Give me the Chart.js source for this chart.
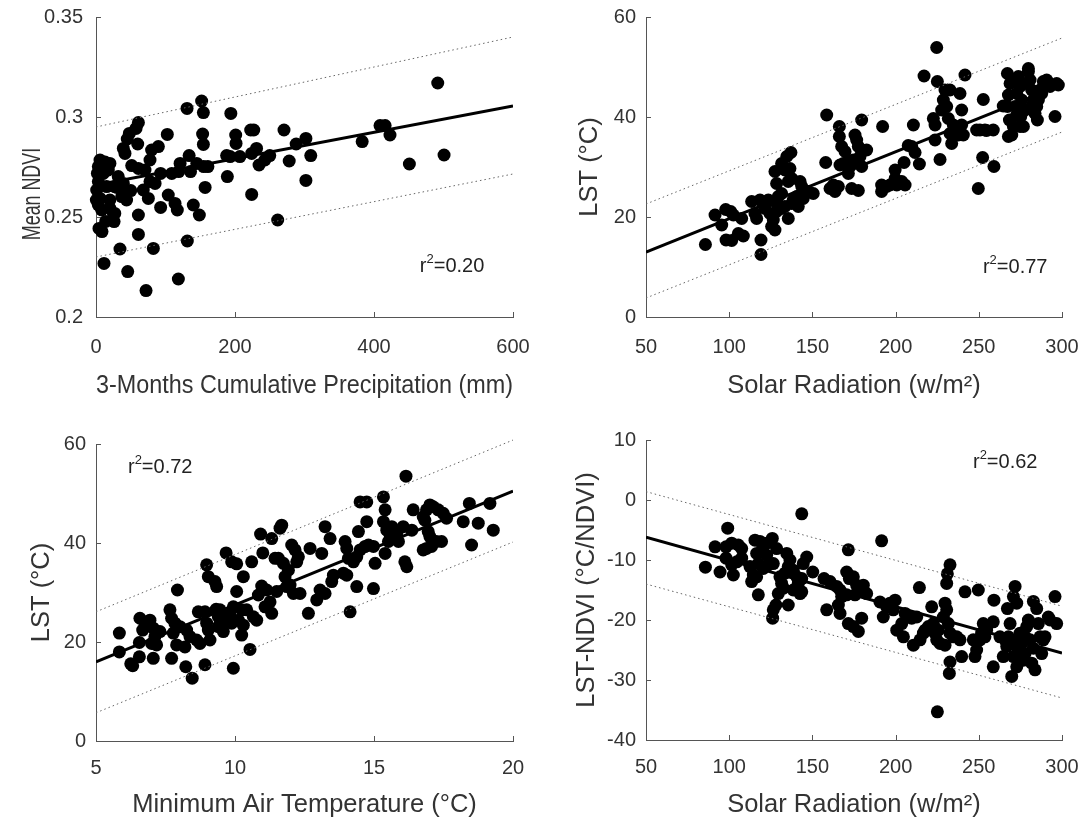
<!DOCTYPE html>
<html>
<head>
<meta charset="utf-8">
<title>NDVI / LST scatter panels</title>
<script src="https://cdn.jsdelivr.net/npm/chart.js@4/dist/chart.umd.min.js"></script>
<style>
  html, body { margin: 0; padding: 0; background: #fff; }
  #wrap { position: relative; width: 1091px; height: 821px; }
  .panel { position: absolute; }
</style>
</head>
<body>
<div id="wrap">
  <div class="panel" style="left:0;top:0;width:545px;height:410px"><canvas id="c1"></canvas></div>
  <div class="panel" style="left:545px;top:0;width:546px;height:410px"><canvas id="c2"></canvas></div>
  <div class="panel" style="left:0;top:410px;width:545px;height:411px"><canvas id="c3"></canvas></div>
  <div class="panel" style="left:545px;top:410px;width:546px;height:411px"><canvas id="c4"></canvas></div>
</div>
<script>
// ---- data ----

// panel a: 3-month precipitation (mm) vs mean NDVI
const precipNdvi = [
  [491.7,0.317],[500.8,0.281],[450.9,0.2765],[408.7,0.2957],[416,0.2957],[423,0.291],[383,0.2877],
  [309,0.2807],[302,0.2893],[288,0.2865],[278,0.278],[270.5,0.2935],[302,0.2683],[261.4,0.2485],
  [250,0.2807],[243,0.2785],[234.6,0.276],[227,0.2935],[222.6,0.2935],[231,0.2843],[224,0.2818],
  [224,0.2613],[201,0.291],[201.5,0.2868],[194,0.3018],[188,0.2807],[193,0.2802],[207,0.2802],
  [189,0.2702],[152,0.308],[131,0.3043],[154.5,0.3022],[153.4,0.2915],[154.5,0.2863],[134,0.2807],
  [145,0.2768],[157,0.2648],[161,0.2752],[155,0.2752],[136,0.2727],[121,0.2768],[119,0.2727],
  [109,0.2718],[102.6,0.2913],[93,0.2718],[140,0.256],[148.7,0.251],[104,0.261],[113.7,0.2568],
  [117,0.2535],[93,0.2548],[131.4,0.238],[118.5,0.219],[82.5,0.2343],[72,0.2132],[45.6,0.2227],
  [34.5,0.234],[11.5,0.2268],[61,0.2413],[61,0.251],[8.6,0.2427],[4.3,0.2443],[26,0.2477],
  [25,0.2518],[61,0.2972],[48,0.2918],[45,0.289],[57.6,0.2943],[60,0.2865],[39.3,0.2843],
  [41.7,0.2818],[89.7,0.2852],[80,0.2835],[77.7,0.2785],[51.4,0.2757],[61,0.2743],[70.5,0.2735],
  [77.7,0.2677],[68,0.2635],[75.3,0.2593],[39.3,0.2668],[41.7,0.2627],[37,0.2602],[44,0.2585],
  [20,0.2768],[17.7,0.2735],[10.5,0.2718],[5.8,0.2785],[3.4,0.2752],[2,0.2718],[3.4,0.2677],
  [1,0.2635],[5.8,0.2593],[3.4,0.256],[8.2,0.2535],[20,0.2543],[27,0.2518],[15.4,0.2652],
  [27,0.2652],[32,0.2702],[20,0.2585],[13,0.2775],[0.5,0.2585],[14,0.2478],[30,0.2648],
  [50,0.2632],[85,0.2668]
];
const fitX1 = [0, 600];
const fitY1 = [0.266, 0.3055];
const upperY1 = [0.295, 0.340];
const lowerY1 = [0.230, 0.2715];
const xTicks1 = [0, 200, 400, 600];
const yTicks1 = [0.2, 0.25, 0.3, 0.35];

// panel b: solar radiation vs LST
const solarLst = [
  [85.7,14.5],[91.5,20.4],[95.5,18.4],[97.9,21.5],[100.9,21.1],[102.5,20.4],[98.1,15.4],[101.5,15.3],
  [107.5,19.7],[108.5,16.2],[105.5,16.7],[119.1,15.4],[119.1,12.5],
  [113.5,23.1],[115.5,20.7],[116.5,19.7],[118.5,23.4],[120.5,22.7],[121.5,21.7],[123.5,23.4],
  [124.5,20.7],[126.5,19.4],[127.5,17.4],[125.5,18.1],[128.5,22.7],[128.5,26.7],[127.5,29.1],
  [129.5,24.1],[131.5,24.7],[131.5,30.7],[133.5,29.4],[135.5,27.1],[137.1,32.9],[134.6,32.1],
  [136.5,29.7],[137.6,27.7],[135.5,19.7],[138.5,23.4],[140.6,24.1],[141.5,22.1],[142.6,27.1],
  [143.6,26.1],[144.5,23.7],[145.6,24.7],[147.5,25.1],[150.5,24.7],[137.6,22.7],[133.5,22.1],
  [131.5,21.7],[128.5,21.1],
  [158,30.9],[158.6,40.4],[160.6,25.7],[163.6,25.1],[165.6,26.1],[162.6,26.4],[166.2,38.1],[166.2,36.1],
  [167.6,34.1],[169.6,33.1],[166.6,30.4],[168.6,30.7],[171.6,31.1],[172.6,30.1],[171.6,28.7],
  [174.6,31.4],[175.6,36.4],[176.6,35.4],[177.6,34.1],[178.6,32.1],[179.6,30.1],[182.6,33.4],
  [179.6,39.4],[173.6,25.7],[177.6,25.3],
  [192.2,38.1],[191.6,26.4],[191.6,25.1],[194.6,26.1],[196.6,26.4],[199.7,29.4],[200.7,26.4],
  [203.7,27.1],[205.7,26.4],[199.7,27.7],[205.1,30.9],[207.6,34.3],[209.7,34.1],[210.7,38.4],
  [211.7,32.9],[214.3,30.6],[217.1,48.2],[224.7,53.9],[225.1,47.1],
  [222.7,39.7],[223.7,38.4],[223.7,35.4],[226.7,31.5],[227.7,41.4],[228.7,43.4],[229.7,45.4],
  [230.7,42.1],[231.7,39.7],[232.7,45.4],[232.7,36.7],[233.7,34.7],[234.7,38.4],[235.7,36.7],
  [237.7,36.4],[238.7,44.7],[239.7,41.4],[239.7,38.4],[240.7,36.4],[241.7,48.4],
  [248.7,37.4],[249.7,25.7],[250.7,37.4],[252.3,31.9],[253.7,37.4],[252.7,43.5],[254.7,37.3],
  [258.7,37.4],[259.1,30.1],[264.7,42.2],
  [267.2,48.7],[268.8,46.7],[270.8,47.1],[267.8,44.4],[267.2,42.1],[268.4,39.4],[267.8,36.1],
  [269.8,36.4],[270.8,38.1],[271.8,42.1],[272.8,44.7],[273.8,48.1],[274.8,46.1],[275.8,43.4],
  [275.2,40.1],[276.8,38.1],[277.8,41.4],[279.8,49.7],[279.8,49.1],[280.8,47.4],[281.8,45.4],
  [282.8,43.4],[281.8,42.1],[283.8,40.7],[285.2,39.4],[285.8,43.4],[286.8,45.4],[288.8,47.1],
  [290.8,46.7],[292.8,46.1],[295.8,40.1],[296.8,46.7],[297.8,46.4],[278.8,46.7],[272.8,40.4],
  [274.8,38.1],[284.8,42.1],[287.8,44.7],[290.8,47.4]
];
const fitX2 = [50, 300];
const fitY2 = [13.0, 46.4];
const upperY2 = [22.6, 55.8];
const lowerY2 = [3.8, 37.0];
const xTicks2 = [50, 100, 150, 200, 250, 300];
const yTicks2 = [0, 20, 40, 60];

// panel c: minimum air temperature vs LST
const tminLst = [
  [5.84,21.8],[5.84,18.0],[6.25,15.6],[6.32,15.2],[6.56,17.0],[6.56,19.9],[6.58,24.8],[6.94,24.4],
  [6.68,22.4],[6.76,23.8],[7.06,22.8],[7.12,21.1],[7.0,19.7],[7.3,22.1],[7.18,19.4],[7.06,16.7],
  [7.66,26.5],[7.72,24.8],[7.84,23.8],[7.93,30.5],[7.78,21.8],[7.9,19.4],[7.72,16.7],[8.2,19.0],
  [8.26,22.4],[8.23,15.0],[8.46,12.7],
  [8.02,23.1],[8.38,21.1],[8.62,20.4],[8.74,19.7],[8.68,26.1],[8.92,26.1],[8.98,23.8],[9.04,22.4],
  [9.1,20.4],[8.92,15.4],
  [8.98,35.6],[9.04,33.2],[9.28,32.2],[9.34,31.2],[9.32,26.6],[9.4,25.1],[9.4,23.1],[9.46,26.5],
  [9.52,24.4],[9.58,22.1],[9.58,23.8],
  [9.68,38.0],[9.88,36.2],[10.06,35.8],[10.3,33.2],[10.06,30.2],[9.94,27.1],[9.82,25.5],[9.88,23.8],
  [10.12,24.4],[10.24,26.5],[10.3,23.4],[10.24,21.4],[9.94,14.7],[10.54,18.5],[10.42,26.5],
  [10.6,36.2],[10.66,25.1],[10.78,24.4],
  [10.92,41.8],[11.0,38.0],[11.32,40.9],[10.96,31.3],[10.84,29.5],[11.14,30.5],[11.08,27.1],
  [11.26,28.1],[11.32,25.8],[11.5,30.2],[11.44,36.9],[11.68,43.6],[11.62,43.0],[11.56,36.9],
  [11.74,35.9],[11.92,34.5],[11.8,33.2],[11.86,31.2],[11.98,31.5],[12.1,29.8],[12.04,39.6],
  [12.16,38.6],[12.28,37.2],[12.22,36.2],[12.34,29.8],[12.64,25.8],[12.7,38.9],[12.94,28.5],
  [13.12,37.9],[13.24,43.3],[13.06,30.5],[13.24,29.8],
  [13.42,40.9],[13.54,33.5],[13.48,32.2],[13.96,40.3],[14.02,38.9],[14.08,36.9],[14.26,36.2],
  [14.02,33.5],[13.9,33.9],[14.14,26.1],[14.38,31.2],[14.38,37.2],[14.5,38.6],[14.44,42.3],
  [14.5,48.3],[14.74,48.3],[14.74,44.3],[14.68,39.3],[14.8,39.6],[14.98,39.3],[15.04,35.9],
  [14.98,30.8],[15.34,49.3],[15.4,46.7],[15.34,44.3],[15.46,42.6],[15.4,37.9],[15.52,40.3],
  [15.64,43.3],[15.58,41.6],[15.82,42.0],[15.88,40.3],[16.05,43.3],[16.11,36.2],[16.18,35.2],
  [16.15,53.5],[16.41,46.7],[16.36,42.6],
  [16.77,45.3],[16.83,44.6],[16.89,46.7],[17.01,47.7],[17.13,47.3],[17.31,46.7],[17.49,46.0],
  [17.61,45.0],[16.95,42.3],[17.01,41.3],[16.77,38.6],[16.89,38.9],[17.07,39.3],[17.25,40.3],
  [17.43,40.3],[18.21,44.3],[18.43,48.0],[18.51,39.6],[18.75,44.0],[19.17,48.0],[19.29,42.6]
];
const fitX3 = [5, 20];
const fitY3 = [16.0, 50.5];
const upperY3 = [26.1, 60.8];
const lowerY3 = [5.7, 40.2];
const xTicks3 = [5, 10, 15, 20];
const yTicks3 = [0, 20, 40, 60];

// panel d: solar radiation vs LST-NDVI slope
const solarLstNdvi = [
  [85.7,-11.2],[91.5,-7.8],[94.5,-12.0],[99.1,-4.7],[98.1,-7.8],[101.5,-7.2],[105.5,-7.5],[107.5,-8.1],
  [98.1,-9.7],[101.5,-10.8],[102.5,-12.5],[104.6,-10.3],[107.5,-9.7],
  [113.5,-13.6],[117.5,-15.8],[115.5,-6.7],[118.5,-6.9],[120.5,-7.8],[122.5,-7.2],[125.9,-6.4],
  [128.5,-8.1],[116.5,-8.9],[117.5,-10.6],[120.5,-11.4],[123.5,-10.8],[126.5,-10.6],[114.5,-12.5],
  [122.5,-9.2],[112.5,-11.1],[116.5,-12.8],
  [126.5,-18.3],[128.1,-17.5],[126.1,-19.7],[135.5,-17.5],[130.5,-12.8],[131.5,-13.9],[133.5,-12.2],
  [135.5,-11.1],[134.6,-8.9],[136.5,-10.0],[138.5,-11.7],[140.6,-12.8],[141.5,-13.9],[142.6,-15.6],
  [143.6,-13.1],[144.5,-10.6],[146.6,-9.5],[129.5,-15.6],[132.6,-14.7],[138.5,-15.0],[143.6,-15.3],
  [143.6,-2.3],[150.2,-12.0],
  [157,-13.1],[160.6,-13.6],[158.6,-18.3],[164.6,-14.4],[166.6,-15.0],[165.6,-17.5],[166.6,-18.9],
  [167.6,-16.1],[171.6,-8.3],[170.6,-12.0],[172.2,-13.1],[174.6,-12.8],[176.6,-14.2],[178.6,-15.0],
  [180.6,-14.2],[182.6,-15.6],[171.6,-20.6],[174.6,-21.1],[177.6,-21.9],[179.6,-19.7],[175.6,-15.8],
  [170.6,-15.8],
  [191.6,-6.8],
  [190.6,-17.0],[192.6,-19.5],[194.6,-17.8],[196.6,-17.2],[199.7,-16.7],[198.6,-18.3],[200.7,-21.7],
  [203.7,-20.6],[204.7,-22.8],[205.7,-18.9],[207.7,-19.5],[209.7,-19.7],[210.7,-24.2],[212.7,-19.5],
  [214.3,-14.6],[214.7,-23.3],[216.7,-22.2],[217.7,-21.7],[219.7,-21.1],[221.7,-17.8],[222.7,-20.6],
  [223.7,-22.2],[224.7,-23.3],[225.7,-21.7],[226.7,-23.9],[229.7,-24.2],[228.7,-19.5],[229.7,-17.2],
  [230.7,-13.9],[231.1,-12.3],[232.7,-10.8],[230.7,-18.3],[231.7,-20.6],[232.7,-22.2],[234.7,-22.8],
  [236.7,-22.8],[238.7,-23.3],[239.7,-26.1],[232.7,-27.0],[232.3,-28.9],[225.1,-35.3],
  [241.7,-15.3],[246.7,-23.3],[247.7,-26.1],[248.7,-25.0],[249.7,-15.0],[250.7,-23.3],[251.7,-22.2],
  [252.7,-20.6],[253.7,-22.8],[254.7,-21.7],[258.7,-27.8],[258.7,-20.3],[259.1,-16.7],[262.7,-22.8],
  [264.7,-26.1],[267.2,-18.1],[268.8,-20.6],[269.8,-23.9],[270.8,-16.1],[271.8,-14.4],[272.8,-17.2],
  [265.8,-23.3],[267.8,-22.8],[269.8,-29.4],[270.8,-26.1],[272.8,-23.3],[273.8,-25.0],[274.8,-22.2],
  [275.8,-23.9],[276.8,-26.7],[277.8,-22.8],[278.8,-21.1],[279.8,-20.0],[280.8,-23.3],[281.8,-27.2],
  [282.8,-16.9],[283.8,-28.3],[282.8,-24.7],[284.8,-18.1],[285.8,-20.6],[286.8,-22.8],[287.8,-25.6],
  [288.8,-23.3],[289.8,-22.8],[291.8,-19.5],[292.8,-20.0],[295.8,-16.1],[296.8,-20.6],[272.8,-27.8],
  [274.8,-26.1],[277.8,-25.6],[268.8,-23.3],[266.8,-24.4]
];
const fitX4 = [50, 300];
const fitY4 = [-6.2, -25.5];
const upperY4 = [1.4, -17.7];
const lowerY4 = [-14.0, -33.0];
const xTicks4 = [50, 100, 150, 200, 250, 300];
const yTicks4 = [-40, -30, -20, -10, 0, 10];

// ---- drawing ----
const FONT = "'Liberation Sans', Arial, Helvetica, sans-serif";
const AXIS_GRAY = "#555";
const TEXT_GRAY = "#333";

Chart.defaults.font.family = FONT;
Chart.defaults.color = TEXT_GRAY;

// short tick marks pointing into the plot (matlab style)
const innerTicks = {
  id: "innerTicks",
  beforeDatasetsDraw(chart) {
    const { ctx, chartArea } = chart;
    const sx = chart.scales.x;
    const sy = chart.scales.y;
    ctx.save();
    ctx.strokeStyle = AXIS_GRAY;
    ctx.lineWidth = 1;
    ctx.beginPath();
    sx.ticks.forEach(t => {
      const px = Math.round(sx.getPixelForValue(t.value)) + 0.5;
      ctx.moveTo(px, chartArea.bottom);
      ctx.lineTo(px, chartArea.bottom - 5);
    });
    sy.ticks.forEach(t => {
      const py = Math.round(sy.getPixelForValue(t.value)) + 0.5;
      ctx.moveTo(chartArea.left, py);
      ctx.lineTo(chartArea.left + 5, py);
    });
    ctx.stroke();
    ctx.restore();
  }
};

// r² note drawn at a data position
const rsqPlugin = {
  id: "rsq",
  afterDatasetsDraw(chart, args, opts) {
    if (!opts || !opts.value) return;
    const ctx = chart.ctx;
    const px = chart.scales.x.getPixelForValue(opts.x);
    const py = chart.scales.y.getPixelForValue(opts.y);
    ctx.save();
    ctx.fillStyle = "#222";
    ctx.textBaseline = "alphabetic";
    ctx.textAlign = "left";
    ctx.font = "20px " + FONT;
    ctx.fillText("r", px, py);
    let w = ctx.measureText("r").width;
    ctx.font = "13px " + FONT;
    ctx.fillText("2", px + w, py - 9);
    w += ctx.measureText("2").width;
    ctx.font = "20px " + FONT;
    ctx.fillText("=" + opts.value, px + w, py);
    ctx.restore();
  }
};

// the NDVI y label in the original is set narrower and a bit low, draw it by hand
const squeezedYTitle = {
  id: "squeezedYTitle",
  afterDraw(chart, args, opts) {
    if (!opts || !opts.text) return;
    const ctx = chart.ctx;
    const area = chart.chartArea;
    ctx.save();
    ctx.translate(opts.x, area.top + area.height * opts.at);
    ctx.rotate(-Math.PI / 2);
    ctx.scale(opts.squeeze, 1);
    ctx.font = opts.size + "px " + FONT;
    ctx.fillStyle = TEXT_GRAY;
    ctx.textAlign = "center";
    ctx.textBaseline = "middle";
    ctx.fillText(opts.text, 0, 0);
    ctx.restore();
  }
};

function pts(xs, ys) {
  return xs.map((x, i) => ({ x: x, y: ys[i] }));
}

function axis(o) {
  return {
    type: "linear",
    min: o.min,
    max: o.max,
    afterBuildTicks: scale => { scale.ticks = o.ticks.map(v => ({ value: v })); },
    afterFit: scale => {
      if (o.width) scale.width = o.width;
      if (o.height) scale.height = o.height;
      // keep chart area where the layout padding puts it
      scale.paddingTop = scale.paddingBottom = 0;
      scale.paddingLeft = scale.paddingRight = 0;
    },
    border: { display: true, color: AXIS_GRAY, width: 1 },
    grid: { display: false, drawTicks: false },
    ticks: {
      font: { size: 20 },
      color: TEXT_GRAY,
      padding: o.tickPad,
      maxRotation: 0,
      autoSkip: false,
      callback: v => String(v)
    },
    title: {
      display: !!o.title,
      text: o.title || "",
      font: { size: 25.5 },
      color: TEXT_GRAY,
      padding: o.titlePad
    }
  };
}

function makePanel(id, p) {
  return new Chart(document.getElementById(id), {
    type: "scatter",
    data: {
      datasets: [
        {
          type: "line", data: pts(p.fitX, p.fitY),
          borderColor: "#000", borderWidth: 3, pointRadius: 0, fill: false
        },
        {
          type: "line", data: pts(p.fitX, p.upperY),
          borderColor: "#666", borderWidth: 1, borderDash: [1.5, 3], pointRadius: 0, fill: false, clip: false
        },
        {
          type: "line", data: pts(p.fitX, p.lowerY),
          borderColor: "#666", borderWidth: 1, borderDash: [1.5, 3], pointRadius: 0, fill: false
        },
        {
          data: p.points.map(d => ({ x: d[0], y: d[1] })),
          backgroundColor: "#000", borderWidth: 0, pointRadius: 6.5, clip: false
        }
      ]
    },
    options: {
      responsive: true,
      maintainAspectRatio: false,
      animation: false,
      layout: { autoPadding: false, padding: p.padding },
      plugins: {
        legend: { display: false },
        tooltip: { enabled: false },
        rsq: p.rsq,
        squeezedYTitle: p.yTitle || false
      },
      scales: {
        x: axis(p.x),
        y: axis(p.y)
      }
    },
    plugins: [innerTicks, rsqPlugin, squeezedYTitle]
  });
}

makePanel("c1", {
  points: precipNdvi, fitX: fitX1, fitY: fitY1, upperY: upperY1, lowerY: lowerY1,
  padding: { top: 17, right: 32, left: 0, bottom: 0 },
  rsq: { x: 466, y: 0.2225, value: "0.20" },
  yTitle: { text: "Mean NDVI", x: 33, at: 0.59, size: 25.5, squeeze: 0.7 },
  x: { min: 0, max: 600, ticks: xTicks1, height: 93, tickPad: 18,
       title: "3-Months Cumulative Precipitation (mm)", titlePad: { top: 0, bottom: 9 } },
  y: { min: 0.2, max: 0.35, ticks: yTicks1, width: 96, tickPad: 13 }
});

makePanel("c2", {
  points: solarLst, fitX: fitX2, fitY: fitY2, upperY: upperY2, lowerY: lowerY2,
  padding: { top: 17, right: 29, left: 0, bottom: 0 },
  rsq: { x: 252.5, y: 8.8, value: "0.77" },
  x: { min: 50, max: 300, ticks: xTicks2, height: 93, tickPad: 18,
       title: "Solar Radiation (w/m\u00B2)", titlePad: { top: 0, bottom: 9 } },
  y: { min: 0, max: 60, ticks: yTicks2, width: 101, tickPad: 10,
       title: "LST (\u00B0C)", titlePad: { top: 30, bottom: 0 } }
});

makePanel("c3", {
  points: tminLst, fitX: fitX3, fitY: fitY3, upperY: upperY3, lowerY: lowerY3,
  padding: { top: 34, right: 32, left: 0, bottom: 0 },
  rsq: { x: 6.15, y: 54.1, value: "0.72" },
  x: { min: 5, max: 20, ticks: xTicks3, height: 80, tickPad: 15,
       title: "Minimum Air Temperature (\u00B0C)", titlePad: { top: 0, bottom: 1 } },
  y: { min: 0, max: 60, ticks: yTicks3, width: 96, tickPad: 10,
       title: "LST (\u00B0C)", titlePad: { top: 27, bottom: 0 } }
});

makePanel("c4", {
  points: solarLstNdvi, fitX: fitX4, fitY: fitY4, upperY: upperY4, lowerY: lowerY4,
  padding: { top: 30, right: 29, left: 0, bottom: 0 },
  rsq: { x: 246.5, y: 5.3, value: "0.62" },
  x: { min: 50, max: 300, ticks: xTicks4, height: 81, tickPad: 15,
       title: "Solar Radiation (w/m\u00B2)", titlePad: { top: 0, bottom: 1 } },
  y: { min: -40, max: 10, ticks: yTicks4, width: 101, tickPad: 10,
       title: "LST-NDVI (\u00B0C/NDVI)", titlePad: { top: 27, bottom: 0 } }
});
</script>
</body>
</html>
